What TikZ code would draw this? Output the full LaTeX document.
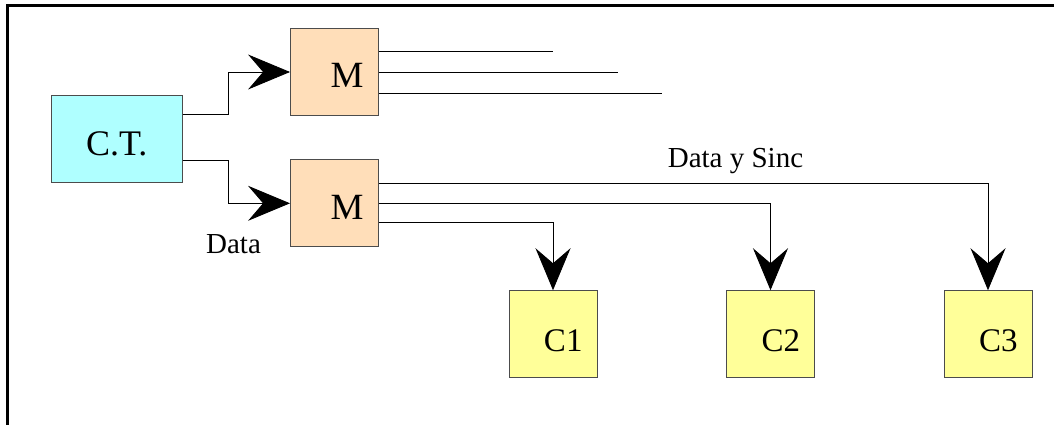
\documentclass[tikz,border=0pt]{standalone}
\usepackage{fontspec}
\setmainfont{Liberation Serif}
\usetikzlibrary{arrows.meta}
\definecolor{ctfill}{HTML}{AFFFFF}
\definecolor{muxfill}{HTML}{FFDEB9}
\definecolor{cellfill}{HTML}{FFFF99}

\begin{document}
\begin{tikzpicture}[x=1pt, y=-1pt, line width=0.9pt,
                box/.style = {draw=black!70, minimum width=88pt, minimum height=87pt, inner sep=0pt},
                ctbox/.style = {box, fill=ctfill, minimum width=131pt, font=\fontsize{36}{40}\selectfont,
                    text height=34pt, text depth=0pt},
                mux/.style = {box, fill=muxfill, text width=58pt, align=right, inner xsep=15pt,
                    font=\fontsize{37}{40}\selectfont, text height=32pt, text depth=0pt},
                cell/.style = {box, fill=cellfill, text width=59pt, align=right, inner xsep=14pt,
                    font=\fontsize{33}{36}\selectfont, text height=34pt, text depth=0pt},
                lbl/.style = {inner sep=0pt, anchor=base, font=\fontsize{29}{31}\selectfont},
                big/.style = {-{Stealth[length=42pt, width=35pt, inset=15pt]}}]
                \useasboundingbox (0,0) rectangle (1054,425);
                % frame
                \draw[line width=3pt] (7.3,425) -- (7.3,5.5) -- (1054,5.5);
                % blocks
                \node[ctbox] (ct) at (116.7,138.7) {C.T.};
                \node[mux] (m1) at (334.5,72) {M};
                \node[mux] (m2) at (334.5,203.3) {M};
                \node[cell] (c1) at (553,334.2) {C1};
                \node[cell] (c2) at (770.5,334.2) {C2};
                \node[cell] (c3) at (988,334.2) {C3};
                \node[lbl] (data) at (233.5,253) {Data};
                \node[lbl] (sinc) at (735.5,167.5) {Data y Sinc};
                % open outputs of the upper M
                \coordinate (o1) at (552.7,51);
                \coordinate (o2) at (617.7,72);
                \coordinate (o3) at (661.7,93);
                \draw (o1 -| m1.east) -- (o1);
                \draw (o2 -| m1.east) -- (o2);
                \draw (o3 -| m1.east) -- (o3);
                % C.T. to the two M
                \draw[big] ([yshift=24.4pt]ct.east) -- ++(45.5,0) |- (m1.west);
                \draw[big] ([yshift=-21.6pt]ct.east) -- ++(45.5,0) |- (m2.west);
                % lower M to C1, C2, C3
                \draw[big] ([yshift=20pt]m2.east) -| (c3.north);
                \draw[big] (m2.east) -| (c2.north);
                \draw[big] ([yshift=-19.5pt]m2.east) -| (c1.north);
            \end{tikzpicture}
\end{document}
